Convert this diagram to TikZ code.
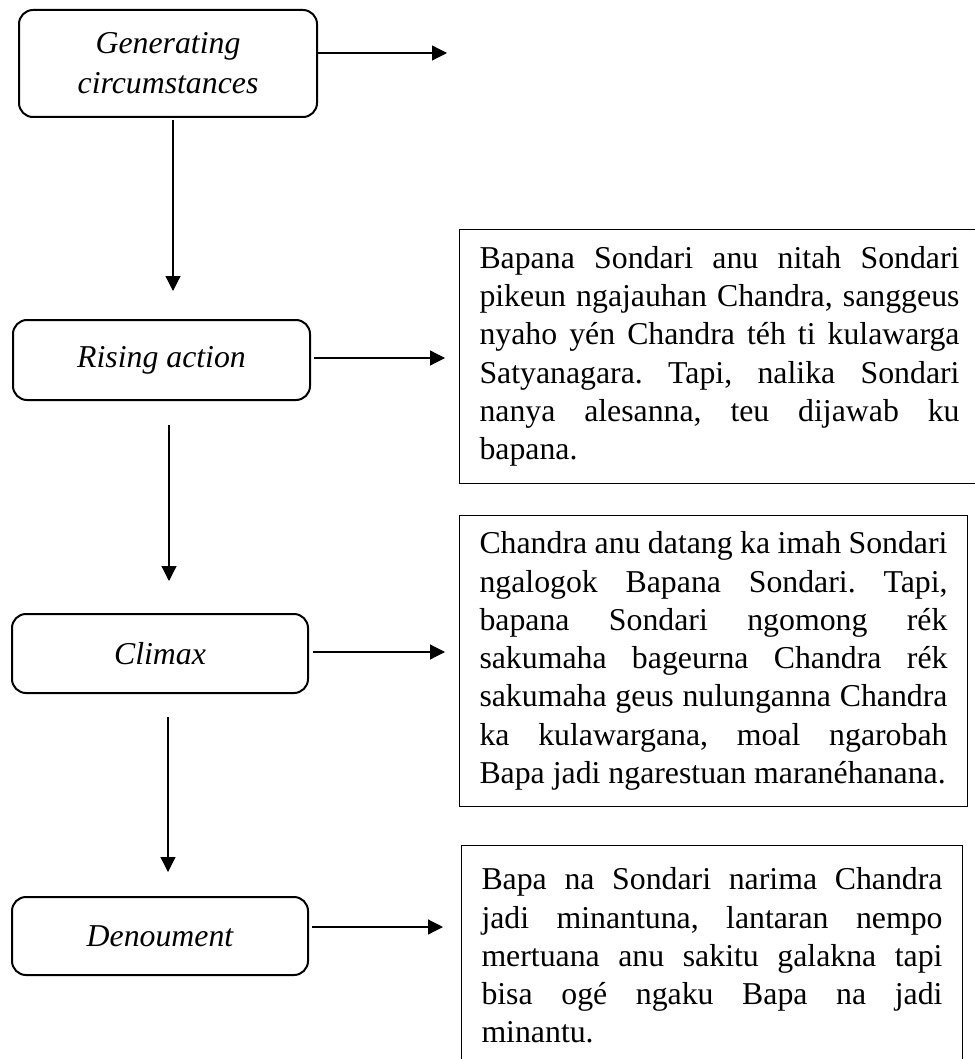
\documentclass[tikz,border=0pt]{standalone}
\usepackage{fontspec}
\setmainfont{Liberation Serif}
\usetikzlibrary{arrows.meta,calc}
\newcommand{\storysize}{\fontsize{15.9}{19.15}\selectfont}
\frenchspacing

\tikzset{
	stage/.style={draw, line width=1pt, rounded corners=7pt, minimum width=148pt, minimum height=40pt, align=center, font=\storysize\itshape},
	story/.style={draw, line width=0.5pt, anchor=north west, align=justify, inner xsep=10pt, inner ysep=0pt, font=\storysize},
	arr/.style={line width=0.6pt, -{Triangle[length=7.5pt,width=7.5pt]}}
}

\begin{document}
\begin{tikzpicture}[x=0.5pt, y=-0.5pt]
	\useasboundingbox (0,0) rectangle (974,1059);
	% plot stages
	\node[stage, minimum width=149pt, minimum height=53.5pt, font=\fontsize{15.9}{20}\selectfont\itshape] (gen) at (168,63.5) {Generating\\circumstances};
	\node[stage, minimum width=148.5pt] (rise) at (161.5,360) {Rising action};
	\node[stage, minimum height=39.5pt] (climax) at (160,653.5) {Climax};
	\node[stage, minimum height=39pt] (den) at (160,936) {Denoument};
	% story text
	\node[story, text width=240pt, minimum height=127pt] (risetxt) at (459,229) {Bapana Sondari anu nitah Sondari\linebreak pikeun ngajauhan Chandra, sanggeus\linebreak nyaho yén Chandra téh ti kulawarga\linebreak Satyanagara. Tapi, nalika Sondari\linebreak nanya alesanna, teu dijawab ku\linebreak bapana.};
	\node[story, text width=234pt, minimum height=145.5pt] (climaxtxt) at (459,515) {Chandra anu datang ka imah Sondari\linebreak ngalogok Bapana Sondari. Tapi,\linebreak bapana Sondari ngomong rék\linebreak sakumaha bageurna Chandra rék\linebreak sakumaha geus nulunganna Chandra\linebreak ka kulawargana, moal ngarobah\linebreak Bapa jadi ngarestuan maranéhanana.};
	\node[story, text width=230.5pt, minimum height=110pt] (dentxt) at (461,845) {Bapa na Sondari narima Chandra\linebreak jadi minantuna, lantaran nempo\linebreak mertuana anu sakitu galakna tapi\linebreak bisa ogé ngaku Bapa na jadi\linebreak minantu.};
	% arrow ends
	\coordinate (gen-to) at (447,53);
	\coordinate (rise-to) at (445,358);
	\coordinate (climax-to) at (445,652);
	\coordinate (den-to) at (443,927);
	\draw[arr] (gen.east |- gen-to) -- (gen-to);
	\draw[arr, shorten <=1.5pt] (rise.east |- rise-to) -- (rise-to);
	\draw[arr, shorten <=2pt] (climax.east |- climax-to) -- (climax-to);
	\draw[arr, shorten <=1.5pt] (den.east |- den-to) -- (den-to);
	% down the plot
	\draw[arr] ($(gen.south)+(2.5pt,-1pt)$) -- ($(gen.south |- rise.north)+(2.5pt,14pt)$);
	\draw[arr] ($(rise.south)+(3.75pt,-12pt)$) -- ($(rise.south |- climax.north)+(3.75pt,16pt)$);
	\draw[arr] ($(climax.south)+(4pt,-11.5pt)$) -- ($(climax.south |- den.north)+(4pt,12pt)$);
\end{tikzpicture}
\end{document}
